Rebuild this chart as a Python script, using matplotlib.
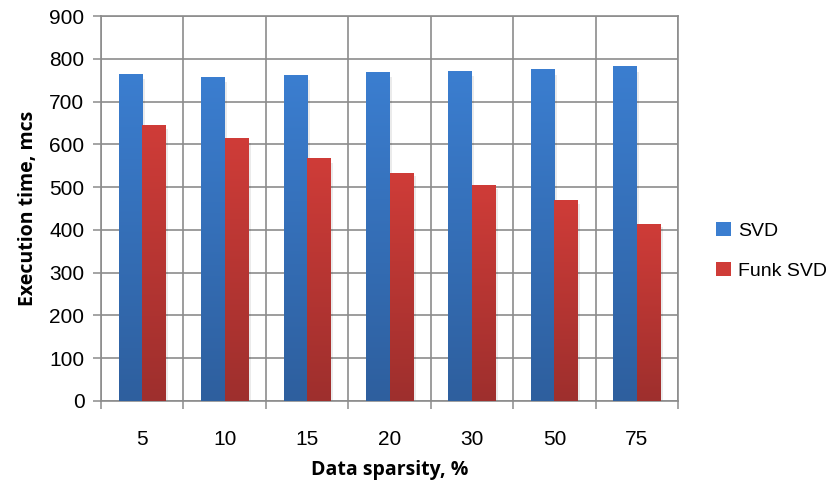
import matplotlib
matplotlib.use("Agg")
import matplotlib.pyplot as plt
import numpy as np
from matplotlib.colors import LinearSegmentedColormap
from matplotlib.patches import Patch

# Datos
sparsity = ["5", "10", "15", "20", "30", "50", "75"]
svd_time = [764, 757, 762, 769, 771, 774, 781]
funk_time = [645, 613, 566, 533, 503, 468, 412]
y_ticks = [0, 100, 200, 300, 400, 500, 600, 700, 800, 900]

GRID = "#8c8c8c"
BLUE_TOP, BLUE_BOT = "#3b7ed0", "#2e5f9e"
RED_TOP, RED_BOT = "#cf3c38", "#9e2f2d"

plt.rcParams["font.family"] = ["Liberation Sans", "DejaVu Sans"]

fig = plt.figure(figsize=(8.33, 4.86), dpi=100)
ax = fig.add_axes([0.1213, 0.175, 0.6927, 0.792])

x = np.arange(len(sparsity))
w = 0.286


def gradient_bars(xpos, values, top, bottom, label):
    bars = ax.bar(xpos, values, w, color=top, edgecolor="none", label=label, zorder=3)
    cmap = LinearSegmentedColormap.from_list(label, [bottom, top])
    grad = np.linspace(0, 1, 256).reshape(-1, 1)
    for b in bars:
        x0, h, bw = b.get_x(), b.get_height(), b.get_width()
        # sombra suave a la derecha
        ax.add_patch(plt.Rectangle((x0 + bw, 0), 0.03, h * 0.985, color="#000000",
                                   alpha=0.08, lw=0, zorder=2))
        ax.imshow(grad, extent=(x0, x0 + bw, 0, h), origin="lower", cmap=cmap,
                  aspect="auto", zorder=4)
    return bars


gradient_bars(x - w / 2, svd_time, BLUE_TOP, BLUE_BOT, "SVD")
gradient_bars(x + w / 2, funk_time, RED_TOP, RED_BOT, "Funk SVD")

ax.set_xlim(-0.5, len(sparsity) - 0.5)
ax.set_ylim(0, 900)
ax.set_yticks(y_ticks)
ax.set_xticks(x)
ax.set_xticklabels(sparsity, fontsize=15)
ax.set_xticks(np.arange(-0.5, len(sparsity)), minor=True)
ax.tick_params(axis="y", labelsize=15, length=6, width=1.1, color=GRID, pad=6)
ax.tick_params(axis="x", which="major", length=0, pad=21)
ax.tick_params(axis="x", which="minor", length=6, width=1.1, color=GRID)

ax.grid(axis="y", which="major", color=GRID, lw=1.2, zorder=1)
ax.grid(axis="x", which="minor", color=GRID, lw=1.2, zorder=1)
for s in ax.spines.values():
    s.set_color(GRID)
    s.set_linewidth(1.2)

ax.set_ylabel("Execution time, mcs", fontsize=14, fontweight="bold",
              family=["Open Sans", "DejaVu Sans"], labelpad=8)
ax.set_xlabel("Data sparsity, %", fontsize=14, fontweight="bold",
              family=["Open Sans", "DejaVu Sans"], labelpad=8)

handles = [Patch(facecolor=BLUE_TOP, label="SVD"), Patch(facecolor=RED_TOP, label="Funk SVD")]
fig.legend(handles=handles, loc="center left", bbox_to_anchor=(0.860, 0.4835),
           frameon=False, fontsize=14, handlelength=0.75, handleheight=0.75,
           handletextpad=0.35, labelspacing=1.15, borderpad=0, borderaxespad=0)

fig.savefig("out.png", dpi=100)
